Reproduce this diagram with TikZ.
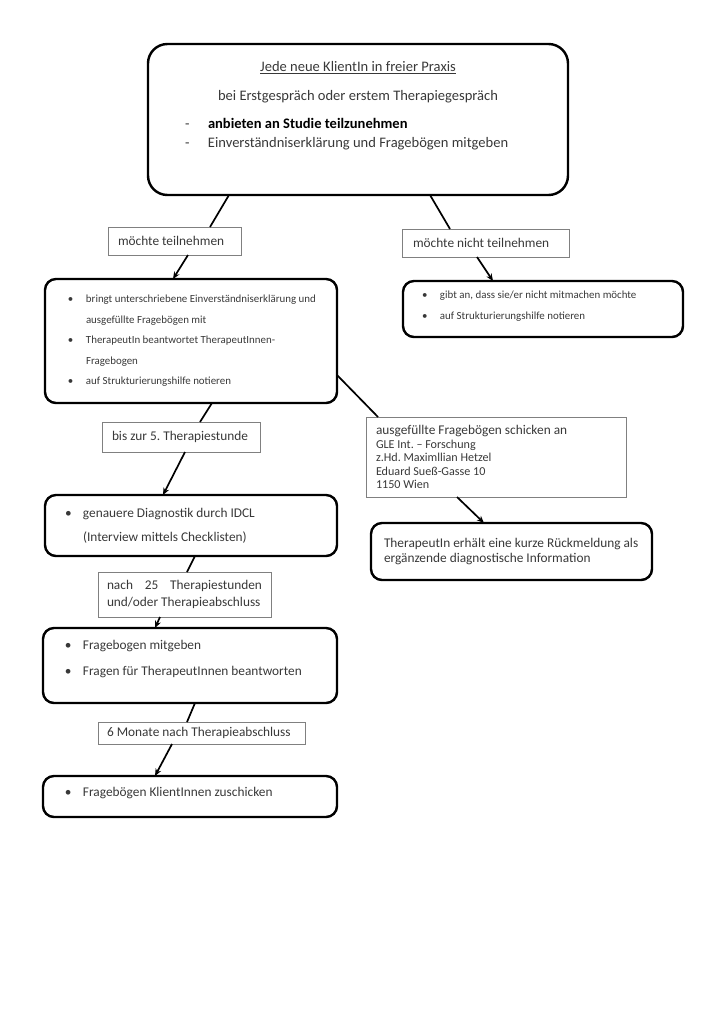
\documentclass[tikz,border=0pt]{standalone}
\usepackage{fontspec}
\setmainfont{Carlito}
\usetikzlibrary{arrows.meta}

\newdimen\px \px=0.029cm
\newcommand{\setfs}[2]{\fontsize{#1pt}{#2\px}\selectfont}
\newcommand{\natspace}{\spaceskip=0pt\xspaceskip=0pt\relax}
\newcommand{\pad}[1]{\leftskip=#1\px\natspace}
\newcommand{\bul}{\makebox[18\px][l]{\textbullet}}
\newcommand{\bulgap}{\hspace*{18\px}}

\begin{document}
\frenchspacing
\begin{tikzpicture}[x=0.029cm,y=-0.029cm,
	every node/.style={outer sep=0pt,inner sep=0pt,anchor=north west,text=black!78,font=\setfs{11}{16}},
	roundbox/.style={draw=black,line width=2pt,rounded corners=9pt,align=left},
	plainbox/.style={draw=black!50,line width=0.8pt,align=left},
	link/.style={draw=black,line width=1.4pt},
	arrow/.style={link,-{Stealth[length=6pt,width=5pt]}}]
	\useasboundingbox (0,0) rectangle (724,1024);
	
	%start
	\node[roundbox,rounded corners=16pt,align=flush center,text width=420\px,minimum height=151\px,font=\setfs{12}{19}] (start) at (148,44)
	{\natspace\underline{Jede neue KlientIn in freier Praxis}\\[10\px]
	 bei Erstgespräch oder erstem Therapiegespräch\\[9\px]
	 \makebox[420\px][l]{\hspace*{37\px}\makebox[23\px][l]{-}\textcolor{black}{\textbf{anbieten an Studie teilzunehmen}}}\\
	 \makebox[420\px][l]{\hspace*{37\px}\makebox[23\px][l]{-}Einverständniserklärung und Fragebögen mitgeben}\par
	 \vspace*{27\px}};
	
	%answers
	\node[plainbox,text width=133\px,minimum height=28\px] (yes) at (108,227) {\pad{10}möchte teilnehmen\par};
	\node[plainbox,text width=167\px,minimum height=28\px] (no) at (402,229) {\pad{11}möchte nicht teilnehmen\par};
	
	%right branch
	\node[roundbox,text width=280\px,minimum height=56\px,font=\setfs{9}{21}] (decline) at (403,281)
	{\pad{19}\bul gibt an, dass sie/er nicht mitmachen möchte\\
	 \bul auf Strukturierungshilfe notieren\par
	 \vspace*{5\px}};
	
	%left branch
	\node[roundbox,text width=292\px,minimum height=124\px,font=\setfs{9}{20.5}] (consent) at (45,279)
	{\pad{23}\bul bringt unterschriebene Einverständniserklärung und\\
	 \bulgap ausgefüllte Fragebögen mit\\
	 \bul TherapeutIn beantwortet TherapeutInnen-\\
	 \bulgap Fragebogen\\
	 \bul auf Strukturierungshilfe notieren\par};
	
	%mail and feedback
	\node[plainbox,text width=260\px,minimum height=80\px,font=\setfs{11}{14}] (send) at (366,417)
	{\pad{10}ausgefüllte Fragebögen schicken an\\
	 \setfs{10}{13.5}GLE Int. -- Forschung\\
	 z.Hd. Maximllian Hetzel\\
	 Eduard Sueß-Gasse 10\\
	 1150 Wien\par};
	\node[roundbox,text width=281\px,minimum height=57\px,font=\setfs{11}{15}] (feedback) at (371,523)
	{\pad{13}TherapeutIn erhält eine kurze Rückmeldung als\\
	 ergänzende diagnostische Information\par};
	
	%steps
	\node[plainbox,text width=158\px,minimum height=30\px] (until5) at (102,422) {\pad{10}bis zur 5. Therapiestunde\par};
	\node[roundbox,text width=292\px,minimum height=61\px,font=\setfs{11}{24}] (diag) at (45,495)
	{\pad{20}\bul genauere Diagnostik durch IDCL\\
	 \bulgap (Interview mittels Checklisten)\par};
	\node[plainbox,text width=173\px,minimum height=45\px,font=\setfs{11}{17}] (after25) at (98,572)
	{\pad{9}\makebox[155\px][s]{nach 25 Therapiestunden}\\
	 und/oder Therapieabschluss\par};
	\node[roundbox,text width=294\px,minimum height=75\px,font=\setfs{11}{26}] (post) at (43,628)
	{\pad{22}\bul Fragebogen mitgeben\\
	 \bul Fragen für TherapeutInnen beantworten\par
	 \vspace*{13\px}};
	\node[plainbox,text width=207\px,minimum height=22\px] (sixm) at (98,722) {\pad{9}6 Monate nach Therapieabschluss\par};
	\node[roundbox,text width=294\px,minimum height=41\px] (followup) at (43,776)
	{\pad{22}\bul Fragebögen KlientInnen zuschicken\par
	 \vspace*{7\px}};
	
	%connectors
	\draw[link] ([xshift=81\px]start.south west) -- ([xshift=102\px]yes.north west);
	\draw[arrow] ([xshift=80\px]yes.south west) -- ([xshift=128\px]consent.north west);
	\draw[link] ([xshift=282\px]start.south west) -- ([xshift=48\px]no.north west);
	\draw[arrow] ([xshift=75\px]no.south west) -- ([xshift=90\px]decline.north west);
	\draw[link] ([yshift=-96\px]consent.north east) -- ([xshift=12\px]send.north west);
	\draw[arrow] ([xshift=91\px]send.south west) -- ([xshift=113\px]feedback.north west);
	\draw[link] ([xshift=167\px]consent.south west) -- ([xshift=98\px]until5.north west);
	\draw[arrow] ([xshift=83\px]until5.south west) -- ([xshift=118\px]diag.north west);
	\draw[link] ([xshift=150\px]diag.south west) -- ([xshift=89\px]after25.north west);
	\draw[arrow] ([xshift=62\px]after25.south west) -- ([xshift=112\px]post.north west);
	\draw[link] ([xshift=152\px]post.south west) -- ([xshift=89\px]sixm.north west);
	\draw[arrow] ([xshift=74\px]sixm.south west) -- ([xshift=112\px]followup.north west); %last step
	
\end{tikzpicture}
\end{document}
